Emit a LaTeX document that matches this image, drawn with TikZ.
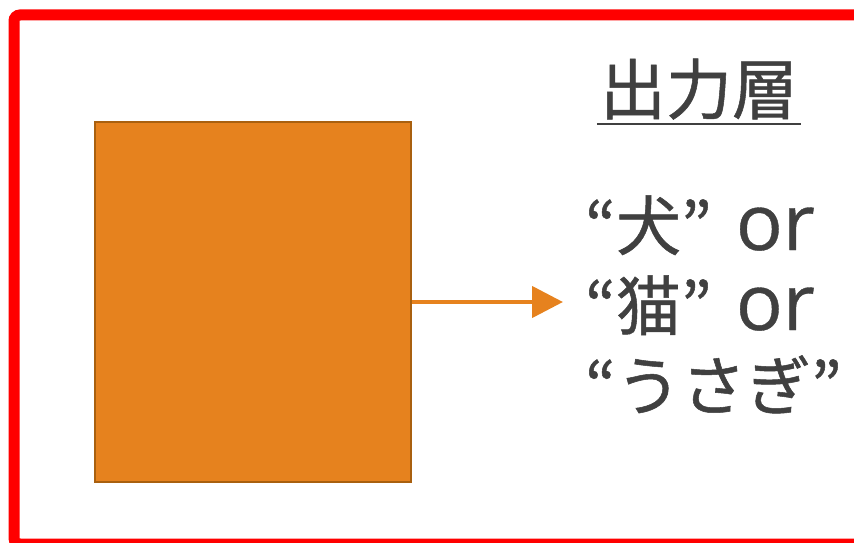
\documentclass[tikz,border=0pt]{standalone}
\usepackage{fontspec}
\setmainfont{Noto Sans CJK JP}
\newfontfamily\jp[FakeBold=0.8]{Noto Sans CJK JP}
\newfontfamily\lat[FakeBold=0.5]{Open Sans}
\usetikzlibrary{arrows.meta}
\definecolor{txt}{HTML}{404040}
\definecolor{org}{HTML}{E6821E}
\definecolor{orgd}{HTML}{A9600F}
\newcommand{\orw}{\hspace{24pt}{\lat\fontsize{78}{78}\selectfont or}}
\begin{document}
\begin{tikzpicture}[x=1pt,y=-1pt,
  lbl/.style={anchor=base west,inner sep=0pt,text=txt,font=\jp\fontsize{65}{65}\selectfont},
  box/.style={draw=orgd,fill=org,line width=2pt,minimum width=316pt,minimum height=360pt,inner sep=0pt},
  arr/.style={draw=org,line width=4.5pt,-{Triangle[length=31pt,width=31pt]}}]
\useasboundingbox (0,0) rectangle (854,543);
\clip (0,0) rectangle (854,543);
\draw[red,line width=11pt,rounded corners=6pt] (14,15) rectangle (880,544);
\node[box] (sq) at (253,302) {};
\coordinate (tip) at (563,302);
\draw[arr] (sq.east) -- (tip);
\node[anchor=base,inner sep=0pt,text=txt,font=\jp\fontsize{66}{66}\selectfont] (head) at (699,114) {出力層};
\draw[txt,line width=2pt] ([xshift=-3pt,yshift=-10pt]head.base west) -- ([xshift=3pt,yshift=-10pt]head.base east);
\node[lbl] (l1) at (585,250) {“犬”\orw};
\node[lbl] (l2) at (585,330) {“猫”\orw};
\node[lbl] (l3) at (585,410) {“うさぎ”};
\end{tikzpicture}
\end{document}
